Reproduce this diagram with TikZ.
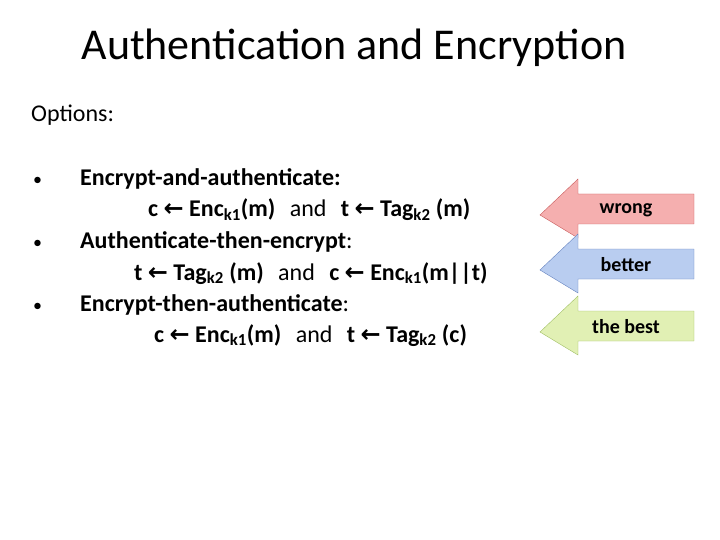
\documentclass[tikz,border=0pt]{standalone}
\usepackage{fontspec}
\setmainfont{Carlito}
\newfontfamily\dv{DejaVu Sans}
\newcommand{\la}{{\dv\bfseries ←}}
\definecolor{rf}{RGB}{245,175,175}\definecolor{rd}{RGB}{200,90,90}
\definecolor{bf}{RGB}{185,205,240}\definecolor{bd}{RGB}{100,130,190}
\definecolor{gf}{RGB}{225,240,180}\definecolor{gd}{RGB}{160,190,100}
\begin{document}
\begin{tikzpicture}[x=1pt,y=-1pt,
  txt/.style={anchor=base west,inner sep=0pt,font=\fontsize{24}{28}\selectfont},
  lab/.style={font=\bfseries\fontsize{20}{24}\selectfont,inner sep=0pt}]
\useasboundingbox (0,0) rectangle (720,540);
\node[anchor=base,inner sep=0pt,font=\fontsize{44}{50}\selectfont] (title) at (354,60) {Authentication and Encryption};
\node[txt] (opt) at (31,122) {Options:};
\foreach \y/\n in {186/b1,248/b2,311/b3} \node[txt,font=\fontsize{18}{20}\selectfont] (\n) at (33,\y) {•};
\node[txt] (l1) at (80,186) {\textbf{Encrypt-and-authenticate:}};
\node[txt] (l2) at (148,217) {\textbf{c \la{} Enc\textsubscript{k1}(m)}\hspace{0.6em}and\hspace{0.6em}\textbf{t \la{} Tag\textsubscript{k2} (m)}};
\node[txt] (l3) at (80,248) {\textbf{Authenticate-then-encrypt}:};
\node[txt] (l4) at (134,280) {\textbf{t \la{} Tag\textsubscript{k2} (m)}\hspace{0.6em}and\hspace{0.6em}\textbf{c \la{} Enc\textsubscript{k1}(m||t)}};
\node[txt] (l5) at (80,311) {\textbf{Encrypt-then-authenticate}:};
\node[txt] (l6) at (154,342) {\textbf{c \la{} Enc\textsubscript{k1}(m)}\hspace{0.6em}and\hspace{0.6em}\textbf{t \la{} Tag\textsubscript{k2} (c)}};
\foreach \ty/\n/\fc/\dc/\lbl in {215/wr/rf/rd/wrong,270/bt/bf/bd/better,332/bs/gf/gd/the best}{
  \draw[draw=\dc,fill=\fc] (540,\ty) -- (578,\ty-36) -- (578,\ty-21) -- (694,\ty-21) -- (694,\ty+9) -- (578,\ty+9) -- (578,\ty+23) -- cycle;
  \node[lab] (\n) at (626,\ty-5) {\lbl};
}
\end{tikzpicture}
\end{document}
